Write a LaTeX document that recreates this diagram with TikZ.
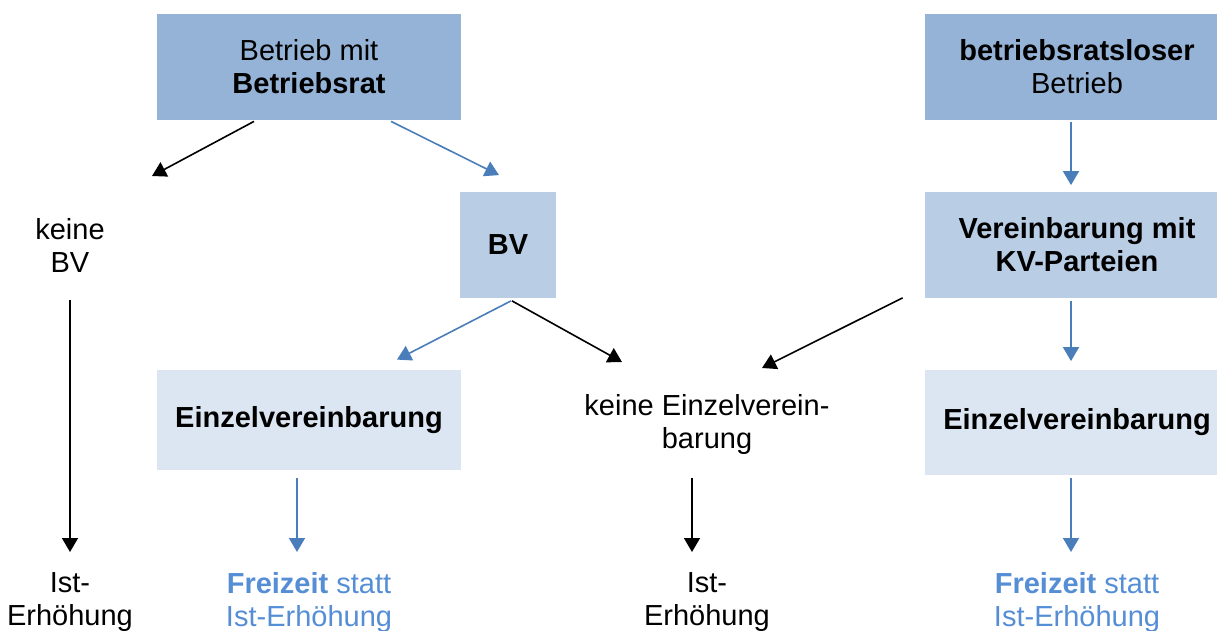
\documentclass[tikz,border=0pt]{standalone}
\usepackage{fontspec}
\setmainfont{Liberation Sans}
\usetikzlibrary{arrows.meta,calc}
\definecolor{boxdark}{HTML}{95B3D7}
\definecolor{boxmid}{HTML}{B9CDE5}
\definecolor{boxlight}{HTML}{DCE6F2}
\definecolor{arrowblue}{HTML}{4A7EBB}
\definecolor{textblue}{HTML}{558ED5}
\begin{document}
\begin{tikzpicture}[x=0.5pt, y=-0.5pt, >={Triangle[length=7pt,width=8pt]},
        every node/.style={font=\fontsize{14.5}{16.5}\selectfont, align=center, inner sep=0pt},
        darkbox/.style={fill=boxdark, minimum height=53pt},
        midbox/.style={fill=boxmid, minimum height=52.5pt},
        lightbox/.style={fill=boxlight, minimum height=51pt},
        result/.style={text=textblue},
        blackarrow/.style={->, line width=0.8pt, black},
        bluearrow/.style={->, line width=0.8pt, arrowblue}]
    \useasboundingbox (0,0) rectangle (1217,631);
    % top row
    \node[darkbox, minimum width=152pt] (mit) at (309,67) {Betrieb mit\\\textbf{Betriebsrat}};
    \node[darkbox, minimum width=152pt] (ohne) at (1077,67) {\textbf{betriebsratsloser}\\Betrieb};
    % second row
    \node (keinebv) at (70,245) {keine\\BV};
    \node[midbox, minimum width=48pt] (bv) at (508,245) {\textbf{BV}};
    \node[midbox, minimum width=152pt] (kvp) at (1077,245) {\textbf{Vereinbarung mit}\\\textbf{KV-Parteien}};
    % third row
    \node[lightbox, minimum width=152pt, minimum height=50pt] (ev1) at (309,420) {\textbf{Einzelvereinbarung}};
    \node (kev) at (707,425) {keine Einzelverein-\\barung};
    \node[lightbox, minimum width=152pt, minimum height=52.5pt] (ev2) at (1077,422) {\textbf{Einzelvereinbarung}};
    % results
    \node (ist1) at (70,602) {Ist-\\Erhöhung};
    \node[result] (frei1) at (309,602) {\textbf{Freizeit} statt\\Ist-Erhöhung};
    \node (ist2) at (707,602) {Ist-\\Erhöhung};
    \node[result] (frei2) at (1077,602) {\textbf{Freizeit} statt\\Ist-Erhöhung};
    % connectors
    \draw[blackarrow] ($(mit.south)+(-55,1)$) -- ($(keinebv)+(82,-69)$);
    \draw[bluearrow] ($(mit.south)+(82,1)$) -- ($(bv.north)+(-9,-17)$);
    \draw[bluearrow] ($(ohne.south)+(-6,2)$) -- ($(kvp.north)+(-6,-7)$);
    \draw[blackarrow] ($(keinebv)+(0,55)$) -- ($(ist1)+(0,-50)$);
    \draw[bluearrow] ($(bv.south)+(3,3)$) -- ($(ev1.north)+(88,-10)$);
    \draw[blackarrow] ($(bv.south)+(4,3)$) -- ($(kev)+(-85,-63)$);
    \draw[blackarrow] ($(kvp.south west)+(-22,0)$) -- ($(kev)+(55,-57)$);
    \draw[bluearrow] ($(kvp.south)+(-6,3)$) -- ($(ev2.north)+(-6,-8)$);
    \draw[bluearrow] ($(ev1.south)+(-12,8)$) -- ($(frei1)+(-12,-50)$);
    \draw[blackarrow] ($(kev)+(-15,53)$) -- ($(ist2)+(-15,-50)$);
    \draw[bluearrow] ($(ev2.south)+(-6,3)$) -- ($(frei2)+(-6,-50)$);
\end{tikzpicture}
\end{document}
